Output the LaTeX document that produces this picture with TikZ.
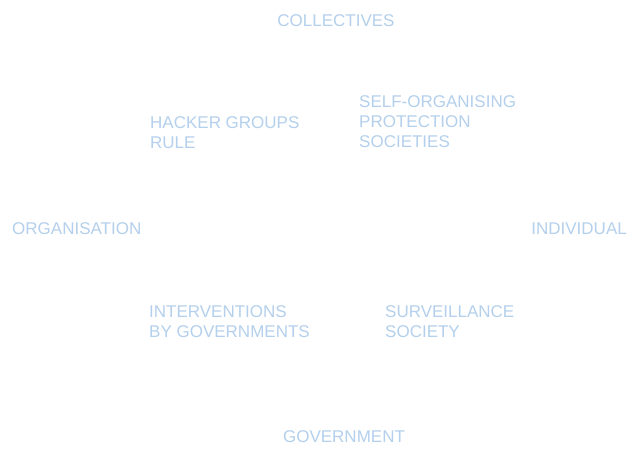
\documentclass[tikz,border=0pt]{standalone}
\usepackage{fontspec}
\setmainfont{Liberation Sans}
\definecolor{lblc}{HTML}{B4D0EC}
\begin{document}
\begin{tikzpicture}[x=1pt,y=-1pt,
  lbl/.style={inner sep=0pt, text=lblc, font=\fontsize{17}{20}\selectfont, align=left}]
\useasboundingbox[fill=white] (0,0) rectangle (640,453);
\node[lbl, anchor=center] (col) at (336,21) {COLLECTIVES};
\node[lbl, anchor=north west] (hack) at (150,116) {HACKER GROUPS\\RULE};
\node[lbl, anchor=north west] (self) at (359,95) {SELF-ORGANISING\\PROTECTION\\SOCIETIES};
\node[lbl, anchor=west] (org) at (12,229) {ORGANISATION};
\node[lbl, anchor=east] (ind) at (627,229) {INDIVIDUAL};
\node[lbl, anchor=north west] (int) at (149,305) {INTERVENTIONS\\BY GOVERNMENTS};
\node[lbl, anchor=north west] (sur) at (385,305) {SURVEILLANCE\\SOCIETY};
\node[lbl, anchor=center] (gov) at (344,437) {GOVERNMENT};
\end{tikzpicture}
\end{document}
